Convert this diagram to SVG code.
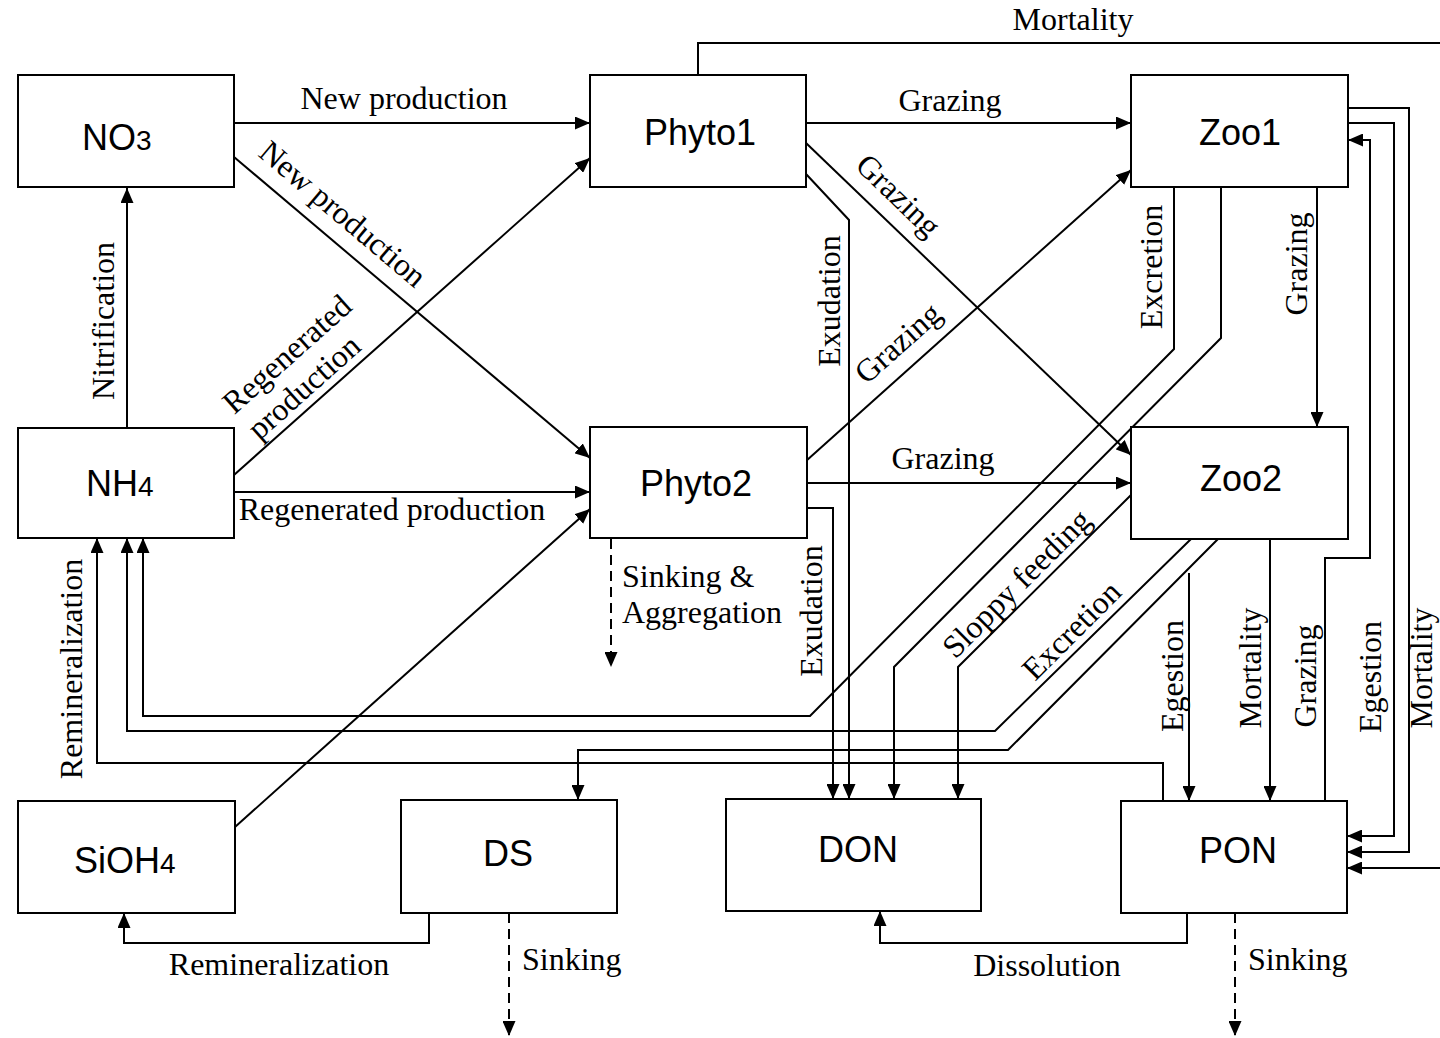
<svg xmlns="http://www.w3.org/2000/svg" width="1440" height="1038" viewBox="0 0 1440 1038">
<style>
.box{fill:#fff;stroke:#000;stroke-width:2}
.nl{font-family:"Liberation Sans",Arial,sans-serif;font-size:36px;fill:#000}
.sub{font-size:28px}
.lb{font-family:"Liberation Serif","Times New Roman",serif;font-size:32px;fill:#000}
.ln{fill:none;stroke:#000;stroke-width:2}
.ar{marker-end:url(#ah)}
.ds{stroke-dasharray:10 6}
</style>
<defs>
<marker id="ah" markerWidth="15" markerHeight="13" refX="15" refY="6.5" orient="auto" markerUnits="userSpaceOnUse"><path d="M0,0 L15,6.5 L0,13 z" fill="#000"/></marker>
</defs>
<rect width="1440" height="1038" fill="#fff"/>
<g id="connectors">
<path class="ln ar" d="M234,123 H590"/>
<path class="ln ar" d="M234,157 L590,458"/>
<path class="ln ar" d="M234,475 L590,158"/>
<path class="ln ar" d="M234,492 H590"/>
<path class="ln ar" d="M127,428 V188"/>
<path class="ln ar" d="M235,827 L590,509"/>
<path class="ln ar" d="M806,123 H1131"/>
<path class="ln ar" d="M806,143 L1131,455"/>
<path class="ln ar" d="M806,174 L849,220 V799"/>
<path class="ln ar" d="M806,461 L1131,170"/>
<path class="ln ar" d="M806,483 H1131"/>
<path class="ln ar" d="M806,508 H833 V799"/>
<path class="ln ar ds" d="M611,539 V667"/>
<path class="ln ar" d="M698,75 V43 H1442 V868 H1347"/>
<path class="ln ar" d="M1317,188 V427"/>
<path class="ln ar" d="M1174,188 V349 L810,716 H143 V538"/>
<path class="ln ar" d="M1221,188 V338 L894,667 V799"/>
<path class="ln ar" d="M1131,495 L958,667 V799"/>
<path class="ln ar" d="M1191,539 L995,731 H127 V538"/>
<path class="ln ar" d="M1218,539 L1008,750 H578 V800"/>
<path class="ln ar" d="M1189,573 V801"/>
<path class="ln ar" d="M1270,539 V801"/>
<path class="ln ar" d="M1348,108 H1409 V852 H1347"/>
<path class="ln ar" d="M1348,123 H1394 V836 H1347"/>
<path class="ln ar" d="M1325,801 V558 H1370 V140 H1348"/>
<path class="ln ar" d="M1163,801 V763 H97 V538"/>
<path class="ln ar" d="M429,913 V943 H124 V913"/>
<path class="ln ar ds" d="M509,913 V1036"/>
<path class="ln ar" d="M1187,913 V943 H880 V911"/>
<path class="ln ar ds" d="M1235,913 V1036"/>
<g class="lb">
<text x="404" y="109" text-anchor="middle">New production</text>
<text transform="translate(336,222) rotate(40.2)" text-anchor="middle">New production</text>
<text transform="translate(294,362) rotate(-41.7)" text-anchor="middle">Regenerated</text>
<text transform="translate(311,395) rotate(-41.7)" text-anchor="middle">production</text>
<text transform="translate(114,321) rotate(-90)" text-anchor="middle">Nitrification</text>
<text x="392" y="520" text-anchor="middle">Regenerated production</text>
<text x="950" y="111" text-anchor="middle">Grazing</text>
<text transform="translate(891,203) rotate(44)" text-anchor="middle">Grazing</text>
<text transform="translate(905,351) rotate(-41.8)" text-anchor="middle">Grazing</text>
<text transform="translate(840,301) rotate(-90)" text-anchor="middle">Exudation</text>
<text transform="translate(822,611) rotate(-90)" text-anchor="middle">Exudation</text>
<text x="943" y="469" text-anchor="middle">Grazing</text>
<text x="622" y="587">Sinking &amp;</text>
<text x="622" y="623">Aggregation</text>
<text x="1073" y="30" text-anchor="middle">Mortality</text>
<text transform="translate(1162,267) rotate(-90)" text-anchor="middle">Excretion</text>
<text transform="translate(1307,264) rotate(-90)" text-anchor="middle">Grazing</text>
<text transform="translate(1024,591) rotate(-45)" text-anchor="middle">Sloppy feeding</text>
<text transform="translate(1079,638) rotate(-45)" text-anchor="middle">Excretion</text>
<text transform="translate(1183,676) rotate(-90)" text-anchor="middle">Egestion</text>
<text transform="translate(1261,668) rotate(-90)" text-anchor="middle">Mortality</text>
<text transform="translate(1316,676) rotate(-90)" text-anchor="middle">Grazing</text>
<text transform="translate(1381,677) rotate(-90)" text-anchor="middle">Egestion</text>
<text transform="translate(1432,668) rotate(-90)" text-anchor="middle">Mortality</text>
<text transform="translate(82,669) rotate(-90)" text-anchor="middle">Remineralization</text>
<text x="279" y="975" text-anchor="middle">Remineralization</text>
<text x="522" y="970">Sinking</text>
<text x="1047" y="976" text-anchor="middle">Dissolution</text>
<text x="1248" y="970">Sinking</text>
</g>
</g>
<g id="NO3"><rect class="box" x="18" y="75" width="216" height="112"/><text class="nl" x="82" y="150">NO<tspan class="sub">3</tspan></text></g>
<g id="Phyto1"><rect class="box" x="590" y="75" width="216" height="112"/><text class="nl" x="700" y="145" text-anchor="middle">Phyto1</text></g>
<g id="Zoo1"><rect class="box" x="1131" y="75" width="217" height="112"/><text class="nl" x="1240" y="145" text-anchor="middle">Zoo1</text></g>
<g id="NH4"><rect class="box" x="18" y="428" width="216" height="110"/><text class="nl" x="86" y="496">NH<tspan class="sub">4</tspan></text></g>
<g id="Phyto2"><rect class="box" x="590" y="427" width="217" height="111"/><text class="nl" x="696" y="496" text-anchor="middle">Phyto2</text></g>
<g id="Zoo2"><rect class="box" x="1131" y="427" width="217" height="112"/><text class="nl" x="1241" y="491" text-anchor="middle">Zoo2</text></g>
<g id="SiOH4"><rect class="box" x="18" y="801" width="217" height="112"/><text class="nl" x="74" y="873">SiOH<tspan class="sub">4</tspan></text></g>
<g id="DS"><rect class="box" x="401" y="800" width="216" height="113"/><text class="nl" x="508" y="866" text-anchor="middle">DS</text></g>
<g id="DON"><rect class="box" x="726" y="799" width="255" height="112"/><text class="nl" x="858" y="862" text-anchor="middle">DON</text></g>
<g id="PON"><rect class="box" x="1121" y="801" width="226" height="112"/><text class="nl" x="1238" y="863" text-anchor="middle">PON</text></g>
</svg>
